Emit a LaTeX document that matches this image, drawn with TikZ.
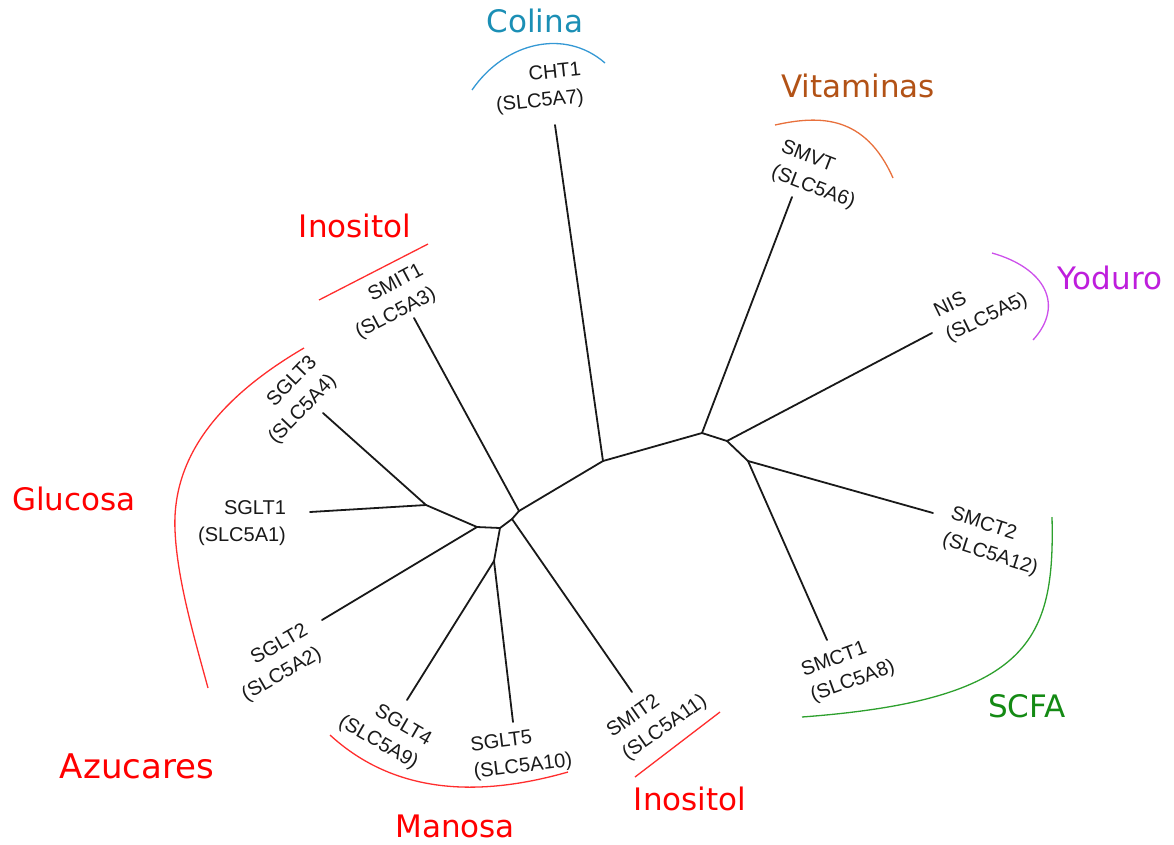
\documentclass[tikz,border=0pt]{standalone}
\usepackage{fontspec}
\setmainfont{Liberation Sans}
\newfontfamily\groupfont{DejaVu Sans}
\definecolor{colina}{RGB}{27,143,181}
\definecolor{colinaarc}{RGB}{52,152,212}
\definecolor{vitam}{RGB}{178,82,22}
\definecolor{vitamarc}{RGB}{232,112,60}
\definecolor{yoduro}{RGB}{190,30,220}
\definecolor{yoduroarc}{RGB}{205,80,235}
\definecolor{azucar}{RGB}{255,0,0}
\definecolor{azucararc}{RGB}{255,45,45}
\definecolor{scfa}{RGB}{20,138,20}
\definecolor{scfaarc}{RGB}{45,160,45}

\begin{document}
\begin{tikzpicture}[x=1pt,y=-1pt,
  branch/.style={line width=1.8pt,line cap=round,black!90},
  leaf/.style={font=\fontsize{20}{27}\selectfont,inner sep=0pt,text=black!90},
  group/.style={font=\groupfont\fontsize{31}{36}\selectfont,inner sep=0pt,anchor=base},
  bracket/.style={line width=1.3pt}]
\useasboundingbox (0,0) rectangle (1174,844);

% inner nodes of the tree
\coordinate (n1) at (426,505);
\coordinate (n2) at (477,527);
\coordinate (n3) at (500,528);
\coordinate (n4) at (512,519);
\coordinate (n5) at (519,511);
\coordinate (n6) at (603,461);
\coordinate (n7) at (702,433);
\coordinate (n8) at (727,441);
\coordinate (n9) at (748,461);
\coordinate (n10) at (494,561);

% tips
\coordinate (cht) at (555,125);
\coordinate (smvt) at (792,197);
\coordinate (nis) at (932,333);
\coordinate (smct2) at (933,513);
\coordinate (smct1) at (827,640);
\coordinate (smit2) at (632,692);
\coordinate (sglt5) at (513,722);
\coordinate (sglt4) at (407,700);
\coordinate (sglt2) at (322,620);
\coordinate (sglt1) at (310,512);
\coordinate (sglt3) at (323,413);
\coordinate (smit1) at (414,318);

\foreach \a/\b in {n1/sglt3,n1/sglt1,n1/n2,n2/sglt2,n2/n3,n3/n10,n10/sglt4,
  n10/sglt5,n3/n4,n4/smit2,n4/n5,n5/smit1,n5/n6,n6/cht,n6/n7,n7/smvt,
  n7/n8,n8/nis,n8/n9,n9/smct2,n9/smct1}
  \draw[branch] (\a) -- (\b);

% gene names
\node[leaf,align=right,rotate=6] (tcht) at (538.6,88.6) {CHT1\\(SLC5A7)};
\node[leaf,align=right,rotate=28] (tsmit1) at (389.7,302) {SMIT1\\(SLC5A3)};
\node[leaf,align=right,rotate=46] (tsglt3) at (293.3,400.6) {SGLT3\\(SLC5A4)};
\node[leaf,align=right] (tsglt1) at (242,523.5) {SGLT1\\(SLC5A1)};
\node[leaf,align=right,rotate=30] (tsglt2) at (275.3,663.3) {SGLT2\\(SLC5A2)};
\node[leaf,align=right,rotate=-30] (tsglt4) at (384.8,731.3) {SGLT4\\(SLC5A9)};
\node[leaf,align=left,rotate=7] (tsglt5) at (521.4,753.6) {SGLT5\\(SLC5A10)};
\node[leaf,align=left,rotate=35] (tsmit2) at (657.3,717) {SMIT2\\(SLC5A11)};
\node[leaf,align=left,rotate=20] (tsmct1) at (848.4,669.3) {SMCT1\\(SLC5A8)};
\node[leaf,align=left,rotate=-18] (tsmct2) at (994.2,542.2) {SMCT2\\(SLC5A12)};
\node[leaf,align=left,rotate=26] (tnis) at (981,306) {NIS\\(SLC5A5)};
\node[leaf,align=left,rotate=-21] (tsmvt) at (817.9,175.4) {SMVT\\(SLC5A6)};

% substrate groups
\draw[bracket,colinaarc] (472,90) .. controls (505,42) and (565,28) .. (605,63);
\node[group,text=colina] (gcolina) at (535,32) {Colina};

\draw[bracket,vitamarc] (775,125) .. controls (820,115) and (865,115) .. (893,178);
\node[group,text=vitam] (gvitam) at (858,97) {Vitaminas};

\draw[bracket,yoduroarc] (992,253) .. controls (1045,268) and (1065,305) .. (1033,340);
\node[group,text=yoduro] (gyoduro) at (1110,289) {Yoduro};

\draw[bracket,azucararc] (319,300) -- (428,244);
\node[group,text=azucar] (ginos1) at (355,237) {Inositol};

\draw[bracket,azucararc] (304,348) .. controls (215,400) and (172,460) .. (175,530)
  .. controls (177,580) and (195,640) .. (208,688);
\node[group,text=azucar] (gglucosa) at (74,510) {Glucosa};
\node[group,text=azucar,font=\groupfont\fontsize{34}{40}\selectfont] (gazucar) at (137,778) {Azucares};

\draw[bracket,azucararc] (330,735) .. controls (390,790) and (470,800) .. (568,772);
\node[group,text=azucar] (gmanosa) at (455,837) {Manosa};

\draw[bracket,azucararc] (720,712) -- (635,777);
\node[group,text=azucar] (ginos2) at (690,810) {Inositol};

\draw[bracket,scfaarc] (1052,517) .. controls (1055,640) and (1030,700) .. (802,717);
\node[group,text=scfa] (gscfa) at (1027,717) {SCFA};
\end{tikzpicture}
\end{document}
